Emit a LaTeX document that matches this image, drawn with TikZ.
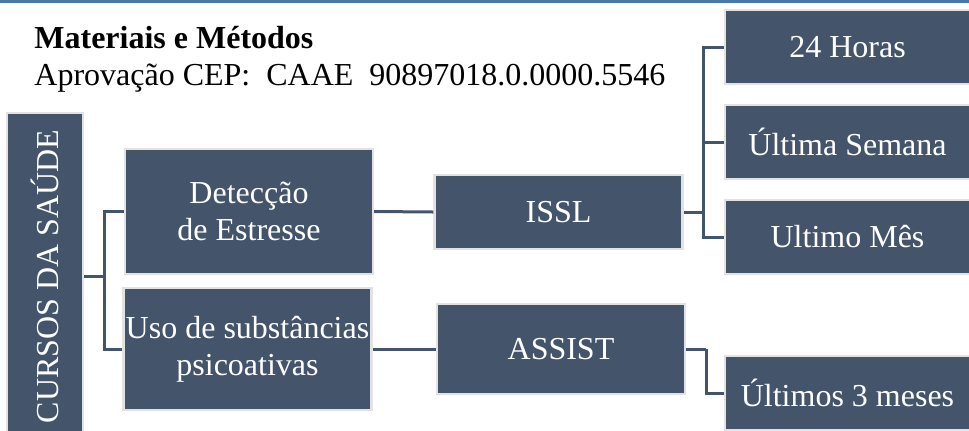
\documentclass[tikz,border=0pt]{standalone}
\usepackage{fontspec}
\setmainfont{Liberation Serif}
\usepackage{tikz}
\usetikzlibrary{positioning}
\definecolor{slate}{RGB}{68,84,106}
\definecolor{rim}{RGB}{226,226,226}
\definecolor{topblue}{RGB}{74,120,166}
\tikzset{basic/.style={draw=rim,line width=1.2pt,fill=slate,text=white,
                       text badly centered,inner sep=1pt}}
\tikzset{stage/.style={basic,minimum width=124pt}}
\tikzset{link/.style={draw=slate,line width=1.5pt}}

\begin{document}
\begin{tikzpicture}[x=0.5pt,y=-0.5pt,font=\fontsize{16pt}{18.4pt}\selectfont]
    \tikzstyle{choice}=[basic,minimum width=122.5pt,minimum height=37pt]
    \tikzstyle{head}=[anchor=base west,inner sep=0pt,text=black]

    \useasboundingbox (0,0) rectangle (969,430);
    \fill[topblue] (0,0) rectangle (969,3);

    % Heading text
    \node[head] (title) at (34,48) {\textbf{Materiais e Métodos}};
    \node[head] (cep) at (34,85) {Aprovação CEP:\ \ CAAE\ \ 90897018.0.0000.5546};

    % Draw the root box
    \node[basic,rotate=90,minimum width=163.5pt,minimum height=38pt] (cursos) at (45,276.5) {CURSOS DA SAÚDE};

    % Draw the second column
    \node[stage,minimum height=62.5pt,align=center] (detec) at (249,211.5) {Detecção\\de Estresse};
    \node[stage,minimum height=61pt,align=center] (uso) at (247.5,349) {Uso de substâncias\\psicoativas};

    % Draw the instruments
    \node[stage,minimum height=37pt] (issl) at (558.5,212) {ISSL};
    \node[stage,minimum height=45pt] (assist) at (561,349) {ASSIST};

    % Draw the time windows
    \foreach \name / \y / \txt in {h24/47/24 Horas,sem/142/Última Semana,mes/237/Ultimo Mês,tri/393/Últimos 3 meses}
        \node[choice] (T-\name) at (847.5,\y) {\txt};

    % Connect the root with the second column
    \draw[link] (cursos.south) -- ++(20,0) coordinate (fork1);
    \foreach \dest in {detec,uso}
        \draw[link] (fork1) |- (\dest.west);

    \draw[link] (detec.east) -- (issl.west);
    \draw[link] (uso.east) -- (assist.west);

    % Connect ISSL with its three windows
    \draw[link] (issl.east) -- ++(20,0) coordinate (fork2);
    \foreach \dest in {h24,sem,mes}
        \draw[link] (fork2) |- (T-\dest.west);

    \draw[link] (assist.east) -- ++(20,0) coordinate (fork3);
    \draw[link] (fork3) |- (T-tri.west);
\end{tikzpicture}
\end{document}
